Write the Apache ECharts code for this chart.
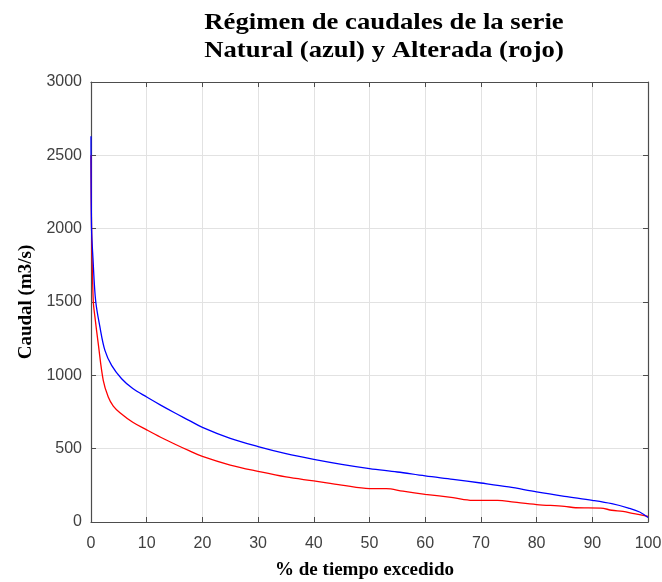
<!DOCTYPE html>
<html>
<head>
<meta charset="utf-8">
<script src="https://cdn.jsdelivr.net/npm/echarts@6/dist/echarts.min.js"></script>
<style>
  html, body { margin: 0; padding: 0; background: #fff; }
  #chart { width: 662px; height: 582px; }
</style>
</head>
<body>
<div id="chart"></div>
<script>
// Flow duration curves: percent of time a discharge is exceeded (m3/s)
const natPercent = [0, 0.1, 0.35, 0.83, 1.6, 2.5, 3.7, 5.5, 7.5, 10, 12.5, 15, 17.5, 20, 25, 30, 35, 40, 45, 50, 55, 60, 65, 70, 75, 80, 85, 90, 93.5, 96.5, 98.5, 100];
const natFlow    = [2630, 2000, 1800, 1510, 1330, 1170, 1068, 977, 910, 852, 797, 745, 695, 645, 570, 514, 466, 427, 393, 364, 341, 314, 291, 266, 239, 205, 175, 148, 125, 95, 68, 30];

const altPercent = [0, 0.1, 0.4, 0.7, 1.3, 2.2, 3.1, 4, 5.2, 7.5, 10, 12.5, 15, 17.5, 20, 25, 30, 35, 40, 45, 50, 53, 56, 60, 65, 68.5, 73, 76, 80, 85, 87, 91.5, 93.5, 95.5, 97.5, 100];
const altFlow    = [2500, 2000, 1510, 1400, 1216, 966, 852, 790, 745, 680, 628, 578, 532, 488, 447, 388, 345, 307, 280, 252, 228, 228, 210, 189, 166, 148, 148, 135, 119, 107, 97, 95, 80, 72, 57, 39];

const xTicks = [0, 10, 20, 30, 40, 50, 60, 70, 80, 90, 100];
const yTicks = [0, 500, 1000, 1500, 2000, 2500, 3000];

const titleLines = ['Régimen de caudales de la serie', 'Natural (azul) y Alterada (rojo)'];
const xName = '% de tiempo excedido';
const yName = 'Caudal (m3/s)';

const pairs = (xs, ys) => xs.map((x, i) => [x, ys[i]]);

const frameColor = '#4d4d4d';
const labelColor = '#404040';
const gridColor = '#e2e2e2';
const serif = '"Liberation Serif", "Times New Roman", serif';
const sans = '"Liberation Sans", Arial, sans-serif';

const chart = echarts.init(document.getElementById('chart'), null, { renderer: 'canvas' });

const frameAxis = {
  type: 'value',
  axisLine: { show: true, onZero: false, lineStyle: { color: frameColor, width: 1.2 } },
  axisTick: { show: true, inside: true, length: 5, lineStyle: { color: frameColor, width: 1 } },
  axisLabel: { show: false },
  splitLine: { show: false }
};

chart.setOption({
  animation: false,
  backgroundColor: '#ffffff',
  grid: { left: 91, right: 14, top: 82, bottom: 60, containLabel: false, outerBoundsMode: 'none' },
  // two-line bold serif heading, slightly widened
  graphic: titleLines.map((t, i) => ({
    type: 'text',
    x: 384,
    y: 23 + i * 27.7,
    scaleX: 1.16,
    style: {
      text: t,
      font: 'bold 23px ' + serif,
      fill: '#000',
      textAlign: 'center',
      textVerticalAlign: 'middle'
    }
  })),
  xAxis: [
    {
      type: 'value',
      position: 'bottom',
      min: xTicks[0],
      max: xTicks[xTicks.length - 1],
      interval: xTicks[1] - xTicks[0],
      name: xName,
      nameLocation: 'middle',
      nameGap: 39,
      nameTextStyle: { fontFamily: serif, fontWeight: 'bold', fontSize: 19, color: '#000', padding: [0, 10, 0, 0] },
      axisLine: { show: true, onZero: false, lineStyle: { color: frameColor, width: 1.2 } },
      axisTick: { show: true, inside: true, length: 5, lineStyle: { color: frameColor, width: 1 } },
      axisLabel: { fontFamily: sans, fontSize: 16, color: labelColor, margin: 14, formatter: v => String(v) },
      splitLine: { show: true, lineStyle: { color: gridColor, width: 1 } }
    },
    Object.assign({}, frameAxis, {
      position: 'top',
      min: xTicks[0],
      max: xTicks[xTicks.length - 1],
      interval: xTicks[1] - xTicks[0]
    })
  ],
  yAxis: [
    {
      type: 'value',
      position: 'left',
      min: yTicks[0],
      max: yTicks[yTicks.length - 1],
      interval: yTicks[1] - yTicks[0],
      name: yName,
      nameLocation: 'middle',
      nameRotate: 90,
      nameGap: 55,
      nameTextStyle: { fontFamily: serif, fontWeight: 'bold', fontSize: 19, color: '#000' },
      axisLine: { show: true, onZero: false, lineStyle: { color: frameColor, width: 1.2 } },
      axisTick: { show: true, inside: true, length: 5, lineStyle: { color: frameColor, width: 1 } },
      axisLabel: { fontFamily: sans, fontSize: 16, color: labelColor, margin: 9, formatter: v => String(v) },
      splitLine: { show: true, lineStyle: { color: gridColor, width: 1 } }
    },
    Object.assign({}, frameAxis, {
      position: 'right',
      min: yTicks[0],
      max: yTicks[yTicks.length - 1],
      interval: yTicks[1] - yTicks[0]
    })
  ],
  series: [
    {
      name: 'Alterada',
      type: 'line',
      data: pairs(altPercent, altFlow),
      showSymbol: false,
      smooth: 0.35,
      lineStyle: { color: '#ff0000', width: 1.3 },
      itemStyle: { color: '#ff0000' },
      z: 3
    },
    {
      name: 'Natural',
      type: 'line',
      data: pairs(natPercent, natFlow),
      showSymbol: false,
      smooth: 0.35,
      lineStyle: { color: '#0000ff', width: 1.3 },
      itemStyle: { color: '#0000ff' },
      z: 4
    }
  ]
});
</script>
</body>
</html>
